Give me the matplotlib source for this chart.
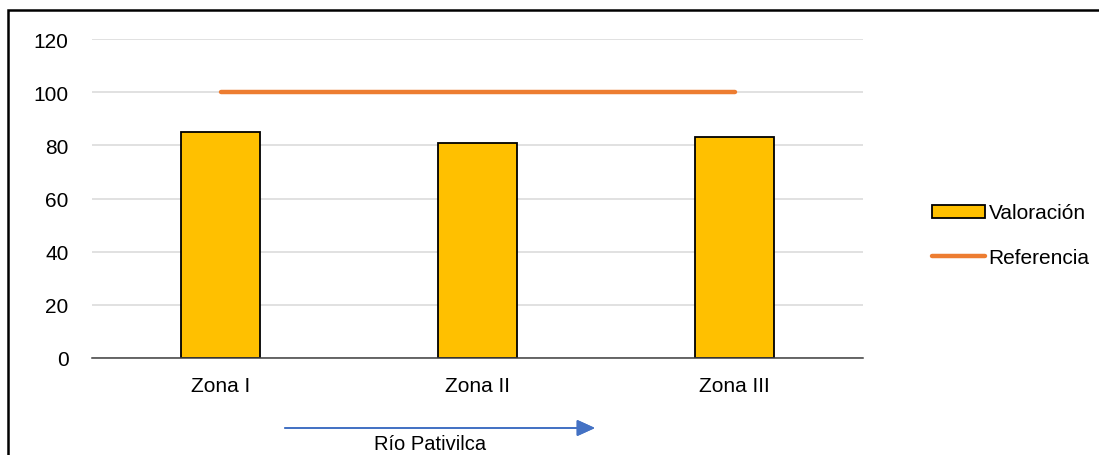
import matplotlib.pyplot as plt
from matplotlib.patches import Rectangle
import numpy as np

plt.rcParams['font.family'] = ['Liberation Sans', 'DejaVu Sans']

zonas = ['Zona I', 'Zona II', 'Zona III']
valoracion = [85, 81, 83]
referencia = [100, 100, 100]
y_ticks = [0, 20, 40, 60, 80, 100, 120]

W, H = 1099, 456
fig = plt.figure(figsize=(W / 100, H / 100), dpi=100)
ax = fig.add_axes([92 / W, (H - 359) / H, (863 - 92) / W, (359 - 40) / H])

x = np.arange(len(zonas))
bars = ax.bar(x, valoracion, width=0.31, color='#FFC000', edgecolor='black',
              linewidth=1.3, label='Valoración', zorder=3)
line, = ax.plot(x, referencia, color='#ED7D31', linewidth=3.2, solid_capstyle='round',
                label='Referencia', zorder=4)

ax.set_xlim(-0.5, len(zonas) - 0.5)
ax.set_ylim(0, 120)
ax.set_yticks(y_ticks)
ax.set_xticks(x)
ax.set_xticklabels(zonas)
ax.tick_params(axis='both', length=0, labelsize=15, colors='black')
ax.tick_params(axis='y', pad=17)
ax.tick_params(axis='x', pad=13)
ax.grid(axis='y', color='#D9D9D9', linewidth=1.1, zorder=0)
for side in ['top', 'right', 'left']:
    ax.spines[side].set_visible(False)
ax.spines['bottom'].set_color('#404040')
ax.spines['bottom'].set_linewidth(1.1)
ax.spines['bottom'].set_zorder(5)

ax.legend(handles=[bars, line], loc='center left', bbox_to_anchor=(922 / W, (H - 236) / H),
          bbox_transform=fig.transFigure, frameon=False, fontsize=15,
          handlelength=2.5, handleheight=0.6, handletextpad=0.2,
          labelspacing=1.2, borderpad=0)

# river direction arrow
fig.add_artist(plt.annotate('', xy=(595 / W, (H - 429) / H), xytext=(285 / W, (H - 429) / H),
                            xycoords='figure fraction', textcoords='figure fraction',
                            arrowprops=dict(arrowstyle='-|>,head_length=1.1,head_width=0.5',
                                            color='#4472C4', linewidth=1.3,
                                            shrinkA=0, shrinkB=0)))
fig.text(430 / W, 2 / H, 'Río Pativilca', ha='center', va='bottom', fontsize=14.5)

fig.add_artist(Rectangle((7.5 / W, -0.1), 1.2, (H - 10.5) / H + 0.1,
                         transform=fig.transFigure, fill=False,
                         edgecolor='black', linewidth=1.8))

fig.savefig('out.png', dpi=100)
